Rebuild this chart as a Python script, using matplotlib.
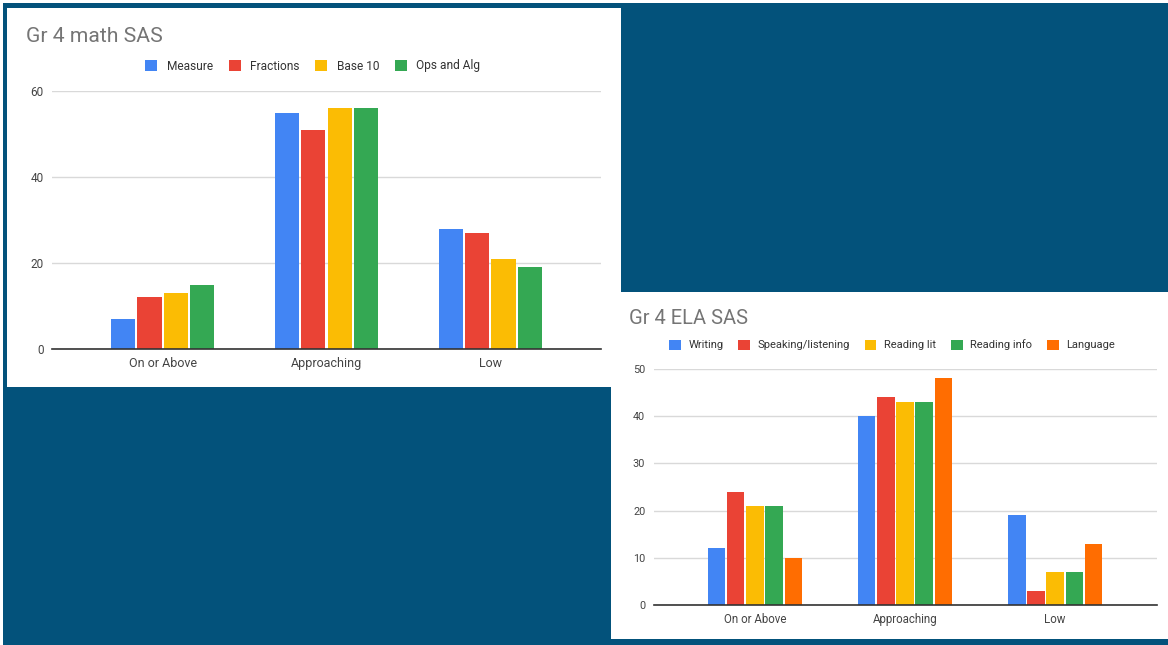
import numpy as np
import matplotlib.pyplot as plt
from matplotlib.patches import Rectangle

plt.rcParams["font.family"] = ["Roboto", "DejaVu Sans"]

W, H = 1168, 645

categories = ["On or Above", "Approaching", "Low"]

math_series = ["Measure", "Fractions", "Base 10", "Ops and Alg"]
math_measure = [7, 55, 28]
math_fractions = [12, 51, 27]
math_base10 = [13, 56, 21]
math_ops = [15, 56, 19]

ela_series = ["Writing", "Speaking/listening", "Reading lit", "Reading info", "Language"]
ela_writing = [12, 40, 19]
ela_speaking = [24, 44, 3]
ela_lit = [21, 43, 7]
ela_info = [21, 43, 7]
ela_language = [10, 48, 13]

colors = ["#4285F4", "#EA4335", "#FBBC04", "#34A853", "#FF6D01"]
bg_blue = "#03527B"


def frac_rect(x0, y0, x1, y1):
    # pixel box (top-left origin) -> figure fraction [left, bottom, width, height]
    return [x0 / W, (H - y1) / H, (x1 - x0) / W, (y1 - y0) / H]


def add_box(fig, x0, y0, x1, y1, color, z):
    l, b, w, h = frac_rect(x0, y0, x1, y1)
    fig.patches.append(Rectangle((l, b), w, h, transform=fig.transFigure,
                                 facecolor=color, edgecolor="none", zorder=z))


def bar_chart(ax, series, values, ymax, yticks, pitch, width, fs):
    n = len(series)
    x = np.arange(len(categories))
    for i, (name, vals) in enumerate(zip(series, values)):
        ax.bar(x + (i - (n - 1) / 2) * pitch, vals, width, color=colors[i],
               label=name, zorder=3)
    ax.set_xlim(-0.675, 2.675)
    ax.set_ylim(0, ymax)
    ax.set_yticks(yticks)
    ax.set_xticks(x)
    ax.set_xticklabels(categories)
    ax.tick_params(length=0, colors="#444444", labelsize=fs - 0.5)
    ax.tick_params(axis="x", pad=6, labelsize=fs)
    ax.tick_params(axis="y", pad=6)
    for s in ["top", "right", "left"]:
        ax.spines[s].set_visible(False)
    ax.spines["bottom"].set_color("#333333")
    ax.spines["bottom"].set_linewidth(1.2)
    ax.spines["bottom"].set_zorder(4)
    ax.grid(axis="y", color="#d9d9d9", linewidth=1, zorder=0)
    ax.set_facecolor("none")
    ax.set_zorder(5)


fig = plt.figure(figsize=(W / 100, H / 100), dpi=100, facecolor="white")

# slide background and the two chart cards
add_box(fig, 3, 3, W, H, bg_blue, -2)
add_box(fig, 7, 8, 621, 387, "white", -1)
add_box(fig, 611, 292, W, 639, "white", -1)

# math chart
ax1 = fig.add_axes(frac_rect(52, 91, 601, 349))
bar_chart(ax1, math_series, [math_measure, math_fractions, math_base10, math_ops],
          60, [0, 20, 40, 60], 0.161, 0.148, 9)
fig.text(26 / W, 1 - 37 / H, "Gr 4 math SAS", fontsize=15.2, color="#757575",
         va="center", ha="left")
ax1.legend(loc="center", bbox_to_anchor=(0.475, 1 + 25 / 258), ncol=4, frameon=False,
           fontsize=8.6, handlelength=1.0, handleheight=1.0, handletextpad=0.8,
           columnspacing=1.3, labelcolor="#333333")

# ELA chart
ax2 = fig.add_axes(frac_rect(653.6, 369, 1156.5, 605))
bar_chart(ax2, ela_series, [ela_writing, ela_speaking, ela_lit, ela_info, ela_language],
          50, [0, 10, 20, 30, 40, 50], 0.128, 0.117, 8.3)
fig.text(629 / W, 1 - 318 / H, "Gr 4 ELA SAS", fontsize=14.5, color="#757575",
         va="center", ha="left")
ax2.legend(loc="center", bbox_to_anchor=(0.474, 1 + 24 / 236), ncol=5, frameon=False,
           fontsize=8, handlelength=1.05, handleheight=1.05, handletextpad=0.67,
           columnspacing=1.35, labelcolor="#333333")

fig.savefig("out.png", dpi=100, facecolor="white")
